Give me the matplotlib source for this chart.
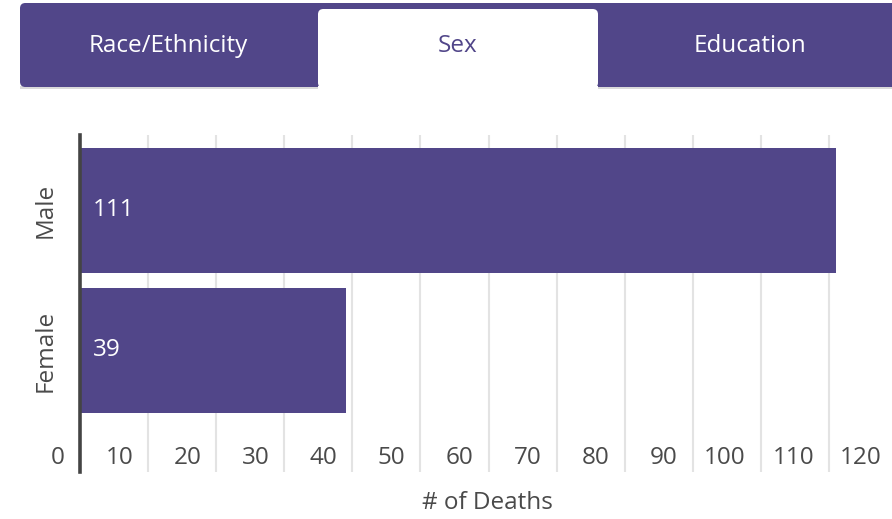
import matplotlib.pyplot as plt
from matplotlib.patches import FancyBboxPatch, Rectangle

# ---- Data ----
CATEGORIES = ["Female", "Male"]
DEATHS = [39, 111]
TICKS = list(range(0, 130, 10))
TABS = ["Race/Ethnicity", "Sex", "Education"]
ACTIVE_TAB = "Sex"
X_LABEL = "# of Deaths"

# ---- Style ----
PURPLE = "#514689"
GRID = "#e3e3e3"
TEXT = "#4a4a4a"
W, H = 892, 519
FS = 17.5

plt.rcParams["font.family"] = ["Open Sans", "DejaVu Sans"]


def px(x, y):
    """pixel (top-left origin) -> figure fraction"""
    return x / W, 1 - y / H


def draw_tabs(fig):
    # light shadow under the purple tabs
    for x0, x1 in [(20, 318), (598, W)]:
        fig.patches.append(Rectangle(px(x0, 89), (x1 - x0) / W, 2.5 / H,
                                     transform=fig.transFigure, fc="#dadada", ec="none"))
    # purple strip behind the tabs
    x0, y0 = px(20, 87)
    strip = FancyBboxPatch((x0, y0), (W - 20) / W + 0.02, 84 / H,
                           boxstyle="round,pad=0,rounding_size=0.006",
                           transform=fig.transFigure, fc=PURPLE, ec="none",
                           mutation_aspect=W / H)
    fig.patches.append(strip)
    # active tab (white)
    tx0, ty0 = px(318, 88)
    tab = FancyBboxPatch((tx0, ty0), 280 / W, 79 / H,
                         boxstyle="round,pad=0,rounding_size=0.006",
                         transform=fig.transFigure, fc="white", ec="none",
                         mutation_aspect=W / H)
    fig.patches.append(tab)
    fig.patches.append(Rectangle(px(318, 100), 280 / W, 14 / H,
                                 transform=fig.transFigure, fc="white", ec="none"))
    centers = [168, 458, 750]
    for name, cx in zip(TABS, centers):
        color = PURPLE if name == ACTIVE_TAB else "white"
        fig.text(*px(cx, 46), name, ha="center", va="center",
                 fontsize=FS, color=color)


def plot_deaths():
    fig = plt.figure(figsize=(W / 100, H / 100), dpi=100)
    draw_tabs(fig)

    left, top, right, bottom = 80, 135, 897, 472
    ax = fig.add_axes([left / W, 1 - bottom / H, (right - left) / W, (bottom - top) / H])

    ypos = list(range(len(CATEGORIES)))
    ax.barh(ypos, DEATHS, height=0.89, color=PURPLE, zorder=2)

    ax.set_xlim(0, 120)
    ax.set_ylim(-0.868, 1.539)
    for t in TICKS[1:]:
        ax.axvline(t, color=GRID, lw=1.5, zorder=1)
    ax.axvline(0, color="#444444", lw=2.6, zorder=3, clip_on=False)

    for t in TICKS:
        ax.text(t - 2.2, -0.77, str(t), ha="right", va="center",
                fontsize=FS, color=TEXT, clip_on=False)

    for y, v in zip(ypos, DEATHS):
        ax.text(1.9, y, str(v), ha="left", va="center", fontsize=FS,
                color="white", zorder=4)

    # category labels
    for y, name in zip(ypos, CATEGORIES):
        ax.text(-5.0, y, name, ha="center", va="center", rotation=90,
                fontsize=FS, color=TEXT, clip_on=False)

    fig.text(*px(487, 503), X_LABEL, ha="center", va="center",
             fontsize=FS, color=TEXT)

    for s in ax.spines.values():
        s.set_visible(False)
    ax.set_xticks([])
    ax.set_yticks([])

    fig.savefig("out.png", dpi=100)


def main():
    plot_deaths()


if __name__ == "__main__":
    main()
